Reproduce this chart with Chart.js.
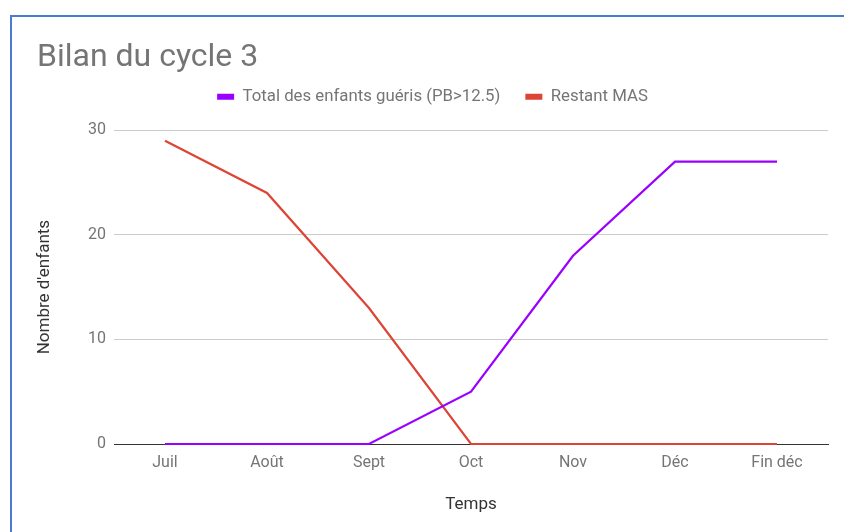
<!DOCTYPE html>
<html><head><meta charset="utf-8">
<script src="https://cdn.jsdelivr.net/npm/chart.js@4"></script>
<style>
html,body{margin:0;padding:0;background:#fff;overflow:hidden}
#wrap{position:absolute;left:0;top:0;width:844px;height:532px}
#frame{position:absolute;left:10px;top:15px;width:900px;height:600px;border-left:2px solid #4a7bd0;border-top:2px solid #4a7bd0;pointer-events:none}
</style></head>
<body>
<div id="wrap"><canvas id="c" width="844" height="532"></canvas></div>
<div id="frame"></div>
<script>
const categories = ['Juil','Août','Sept','Oct','Nov','Déc','Fin déc'];
const gueris = [0,0,0,5,18,27,27];
const restantMAS = [29,24,13,0,0,0,0];
const yTicks = [0,10,20,30];

const FONT = 'Roboto';
const chart = new Chart(document.getElementById('c'), {
  type: 'line',
  data: {
    labels: categories,
    datasets: [
      {label:'Total des enfants guéris (PB>12.5)', data: gueris, borderColor:'#9900ff', backgroundColor:'#9900ff', borderWidth:2.2, pointRadius:0, tension:0, clip:false},
      {label:'Restant MAS', data: restantMAS, borderColor:'#dd4435', backgroundColor:'#dd4435', borderWidth:2.2, pointRadius:0, tension:0, clip:false}
    ]
  },
  options: {
    responsive:false, animation:false,
    layout:{padding:{left:37,right:16,top:0,bottom:18}},
    plugins:{
      title:{display:true,text:'Bilan du cycle 3',align:'start',color:'#757575',font:{family:FONT,size:32,weight:'normal'},padding:{top:39,bottom:-14}},
      legend:{display:true,labels:{color:'#757575',font:{family:FONT,size:16.8},boxWidth:17,boxHeight:6,padding:25,
        generateLabels(chart){ return chart.data.datasets.map((d,i)=>({text:d.label,fillStyle:d.borderColor,strokeStyle:d.borderColor,lineWidth:0,datasetIndex:i,fontColor:'#757575'})); }}},
      tooltip:{enabled:false}
    },
    scales:{
      x:{offset:true,grid:{display:false,drawTicks:false},border:{display:true,color:'#333',width:1},
        ticks:{color:'#757575',font:{family:FONT,size:16},padding:9,maxRotation:0},
        title:{display:true,text:'Temps',color:'#333',font:{family:FONT,size:17},padding:{top:10,bottom:-1}},
        afterFit(s){s.height=70;}},
      y:{min:0,max:30,afterBuildTicks(s){s.ticks=yTicks.map(v=>({value:v}));},
        grid:{color:'#cccccc',drawTicks:false},border:{display:false},
        ticks:{color:'#757575',font:{family:FONT,size:16},padding:8},
        title:{display:true,text:"Nombre d'enfants",color:'#333',font:{family:FONT,size:17},padding:{top:-2,bottom:0}},
        afterFit(s){s.width=77;}}
    }
  }
});
// add extra space below legend so the plot area starts where the reference does
const origFit = chart.legend.fit;
chart.legend.fit = function(){ origFit.call(this); this.height += 15; };
chart.update();
</script>
</body></html>
